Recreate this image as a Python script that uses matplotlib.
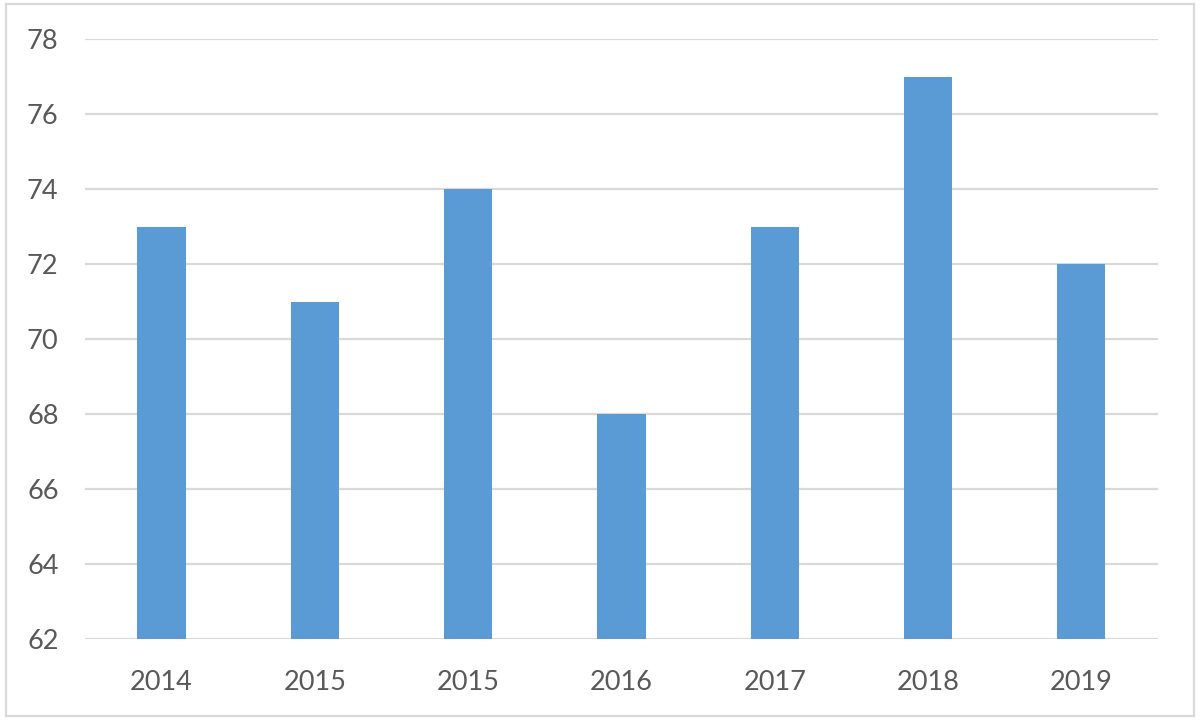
import matplotlib
matplotlib.use('agg')
import matplotlib.pyplot as plt
from matplotlib.patches import Rectangle
import numpy as np

# data
years = ['2014', '2015', '2015', '2016', '2017', '2018', '2019']
values = [73, 71, 74, 68, 73, 77, 72]
yticks = [62, 64, 66, 68, 70, 72, 74, 76, 78]

plt.rcParams['font.family'] = ['Lato', 'DejaVu Sans']

fig = plt.figure(figsize=(12, 7.2), dpi=100)
ax = fig.add_axes([0.0708, 0.1125, 0.8942, 0.8333])

x = np.arange(len(years))
ax.bar(x, np.array(values) - yticks[0], bottom=yticks[0], width=0.315,
       color='#5B9BD5', zorder=3)

ax.set_xlim(-0.5, len(years) - 0.5)
ax.set_ylim(yticks[0], yticks[-1])
ax.set_yticks(yticks)
ax.set_xticks(x)
ax.set_xticklabels(years)
ax.grid(axis='y', color='#D9D9D9', linewidth=1.6, zorder=0)
for s in ax.spines.values():
    s.set_visible(False)
ax.tick_params(length=0, labelsize=19.5, labelcolor='#595959')
ax.tick_params(axis='y', pad=19)
ax.tick_params(axis='x', pad=22)

# outer chart border
fig.patches.append(Rectangle((0.005, 0.005), 0.99, 0.99, transform=fig.transFigure,
                             fill=False, edgecolor='#D9D9D9', linewidth=1.6))

fig.savefig('out.png', dpi=100)
